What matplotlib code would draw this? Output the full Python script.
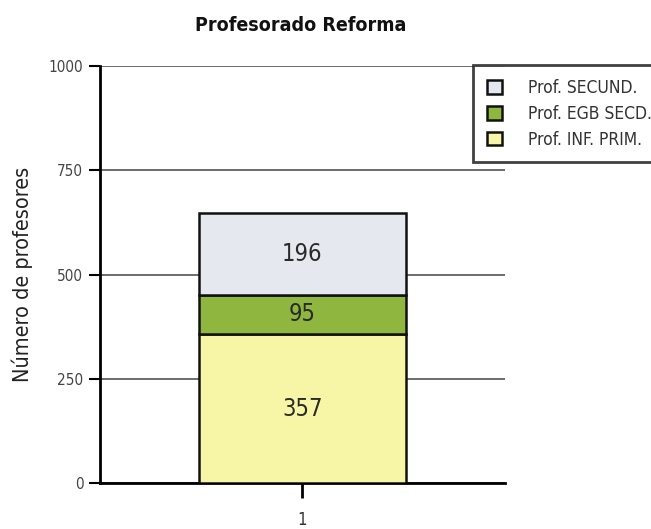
import matplotlib
matplotlib.use("Agg")
import matplotlib.pyplot as plt
from matplotlib import font_manager
from matplotlib.patches import Patch

# datos del gráfico
categorias = ["1"]
series = ["Prof. INF. PRIM.", "Prof. EGB SECD.", "Prof. SECUND."]
valores = {
    "Prof. INF. PRIM.": [357],
    "Prof. EGB SECD.": [95],
    "Prof. SECUND.": [196],
}
colores = {
    "Prof. INF. PRIM.": "#f7f6a6",
    "Prof. EGB SECD.": "#8fb63e",
    "Prof. SECUND.": "#e5e8ee",
}
y_ticks = [0, 250, 500, 750, 1000]

# tipografía estrecha si hay alguna instalada, si no Liberation Sans
familia, estiramiento = "Liberation Sans", "normal"
for f in font_manager.fontManager.ttflist:
    nombre_archivo = f.fname.lower()
    if "narrow" in nombre_archivo or "condensed" in nombre_archivo:
        familia, estiramiento = f.name, f.stretch
        break
plt.rcParams["font.family"] = [familia, "DejaVu Sans"]
plt.rcParams["font.stretch"] = estiramiento

fig = plt.figure(figsize=(6.51, 5.29), dpi=100)
ax = fig.add_axes([0.1536, 0.0869, 0.6221, 0.7883])

x = [1]
base = [0]
for s in series:
    v = valores[s]
    ax.bar(x, v, width=0.51, bottom=base, color=colores[s],
           edgecolor="#111111", linewidth=1.8, zorder=3)
    for xi, vi, bi in zip(x, v, base):
        ax.text(xi, bi + vi / 2, str(vi), ha="center", va="center",
                fontsize=17, color="#2a2a2a", zorder=4)
    base = [b + vi for b, vi in zip(base, v)]

ax.set_xlim(0.5, 1.5)
ax.set_ylim(0, 1000)
ax.set_xticks(x)
ax.set_xticklabels(categorias, fontsize=12, color="#333333")
ax.set_yticks(y_ticks)
ax.set_yticklabels([str(t) for t in y_ticks], fontsize=11, color="#444444")

ax.yaxis.grid(True, color="#444444", linewidth=1.1, zorder=0)
ax.set_axisbelow(True)

for lado in ["top", "right"]:
    ax.spines[lado].set_visible(False)
ax.spines["left"].set_linewidth(2)
ax.spines["bottom"].set_linewidth(2)
ax.tick_params(axis="y", direction="out", length=8, width=1.5, pad=4)
ax.tick_params(axis="x", direction="out", length=11, width=2, pad=9)

ax.set_ylabel("Número de profesores", fontsize=15.5, color="#222222")
ax.yaxis.set_label_coords(-0.165, 0.5)
fig.suptitle("Profesorado Reforma", x=0.462, y=0.97, fontsize=14,
             fontweight="bold", color="#111111")

# leyenda (de arriba hacia abajo)
handles = [Patch(facecolor=colores[s], edgecolor="#111111", linewidth=1.8)
           for s in reversed(series)]
leg = fig.legend(handles, list(reversed(series)), loc="upper left",
                 bbox_to_anchor=(0.7266, 0.877), fontsize=12.5,
                 frameon=True, fancybox=False, edgecolor="#111111",
                 handlelength=0.85, handleheight=0.85, handletextpad=1.5,
                 labelspacing=0.45, borderpad=0.8, borderaxespad=0)
leg.get_frame().set_linewidth(2)
for t in leg.get_texts():
    t.set_color("#333333")

fig.savefig("out.png", dpi=100)
